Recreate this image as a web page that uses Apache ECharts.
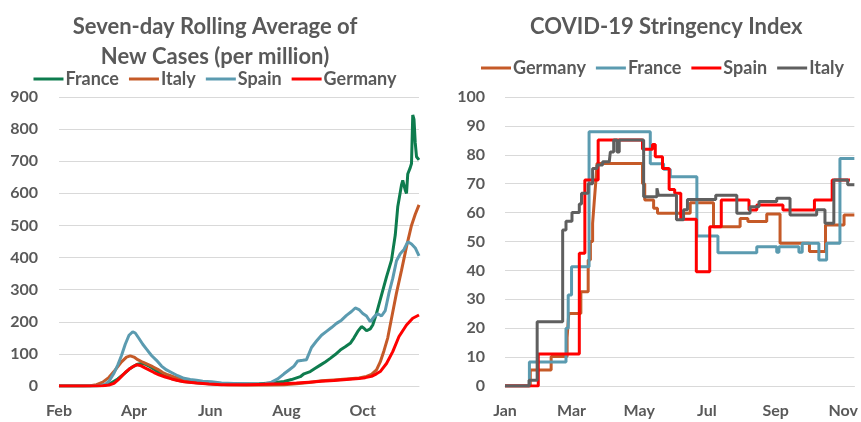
<!DOCTYPE html>
<html><head><meta charset="utf-8">
<script src="https://cdn.jsdelivr.net/npm/echarts@6/dist/echarts.min.js"></script>
<style>
html,body{margin:0;padding:0;background:#fff;}
#wrap{position:relative;width:861px;height:422px;overflow:hidden;}
#c1{position:absolute;left:0;top:0;width:430px;height:422px;}
#c2{position:absolute;left:430px;top:0;width:431px;height:422px;}
</style>
</head><body><div id="wrap"><div id="c1"></div><div id="c2"></div></div>
<script>
// ---------- Left chart: seven-day rolling average of new cases per million ----------
// x values = days since 1 Feb 2020
const caseTickDays = [0, 60, 121, 182, 243];
const caseTickLabels = ['Feb', 'Apr', 'Jun', 'Aug', 'Oct'];
const caseSeriesNames = ['France', 'Italy', 'Spain', 'Germany'];

const franceDays = [0,20,30,37,42,47,52,56,60,63,66,69,72,76,80,85,90,95,100,110,120,130,140,150,160,170,180,186,193,196,201,205,209,213,217,221,225,229,233,236,239,242,244,246,249,251,254,258,262,266,269,271,274,275,277,278,279,281,282,283,284,285,286,288];
const franceVals = [0,0,1,3,10,22,38,52,62,68,70,68,62,52,42,32,24,18,14,10,7,6,6,6,7,9,14,20,29,38,45,55,65,75,86,98,112,122,133,150,170,185,180,172,178,190,226,283,340,392,470,558,626,640,610,600,660,680,693,844,830,757,714,704];

const italyDays = [0,20,25,30,35,40,45,50,54,57,60,63,67,71,75,79,83,87,92,98,105,115,125,135,150,165,180,190,200,210,220,230,240,246,250,254,257,260,263,266,270,274,278,282,285,288];
const italyVals = [0,0,1,4,12,27,50,75,90,94,90,82,74,67,60,52,42,35,28,22,17,11,6,4,3,3,4,7,11,16,19,22,25,30,36,50,75,110,150,210,290,360,434,500,535,564];

const spainDays = [0,25,33,37,40,44,47,50,53,56,59,61,64,67,70,74,78,82,86,90,95,100,105,110,115,122,130,140,150,160,165,170,175,180,184,188,191,195,198,202,206,210,214,218,222,226,230,234,237,240,243,246,249,252,255,258,261,264,267,270,273,276,279,282,285,288];
const spainVals = [0,0,1,5,15,40,65,95,130,158,169,165,148,130,115,95,80,62,50,42,32,24,20,18,15,13,9,8,7,6,7,12,22,38,50,62,78,80,82,120,140,158,170,182,195,205,220,232,243,238,226,218,200,215,225,218,235,290,335,390,412,425,449,442,430,405];

const germanyDays = [0,25,35,40,44,47,50,53,56,59,62,65,68,72,76,80,85,90,95,100,110,120,130,140,150,160,170,180,190,200,210,220,230,240,245,250,254,257,262,267,272,278,283,288];
const germanyVals = [0,0,1,3,8,18,30,42,52,60,66,64,58,50,42,35,28,22,17,13,9,6,4,4,4,5,6,7,9,12,15,17,20,23,26,30,38,45,70,107,154,190,211,221];

// ---------- Right chart: COVID-19 Stringency Index (step changes) ----------
// x values = days since 1 Jan 2020
const strTickDays = [0, 60, 121, 182, 244, 305];
const strTickLabels = ['Jan', 'Mar', 'May', 'Jul', 'Sep', 'Nov'];
const strSeriesNames = ['Germany', 'France', 'Spain', 'Italy'];

const deStrDays = [0,22.8,41.6,56,57.5,68.4,75,77,79,80.5,82,83,124,126,134,137.5,167,188,212,219,236,248,274.5,289,305.7,315];
const deStrVals = [0,5.5,10.2,16.7,25.1,32.6,43.6,50,56.3,64,71.3,77,70,64.4,61.5,59.8,63.4,55.1,58,56.9,59.5,49.4,46.5,55.7,59.2,59.2];

const frStrDays = [0,22,55,57,60,75.8,131,143,149,173,192,227,245,247,265,268,283,290,302,315];
const frStrVals = [0,8.3,20,31.5,41.3,88,76.9,75,72.4,51.9,46.1,48.2,46.3,48.2,46.3,49.4,43.6,49.4,78.7,78.7];

const esStrDays = [0,30,67,72,84,124,133,135.5,142,148,153,158.5,172.5,184.6,195,220,227,250.6,279,295,311];
const esStrVals = [0,11.1,45.9,71.3,85.1,81.9,83.6,79.3,75.3,68,66.7,57.7,39.5,55.1,64.4,60.9,62.6,60.9,64.4,71.3,71.3];

const itStrDays = [0,21.7,29,52,55,60.4,67,69,75,79,83,88,94,95,98,101,103,125,137,138.3,154.6,161,164.5,190,209,221,229,245,257,281,288.5,296.5,309,315];
const itStrVals = [0,2,22.2,54,57,60,63,66.7,70,75.3,76.5,77.6,78.2,81,85.1,81,85.1,65.5,68.4,66,57.5,61,64.5,66,59.8,62,63.8,65,59.2,61,56.3,71.3,69.6,69.6];

const FONT = 'Lato, "Open Sans", sans-serif';
const GREY = '#595959';

function pairs(xs, ys) { return xs.map((x, i) => [x, ys[i]]); }

function baseOption(cfg) {
  return {
    animation: false,
    textStyle: { fontFamily: FONT },
    title: {
      text: cfg.title, left: cfg.titleLeft, top: cfg.titleTop,
      textStyle: { fontFamily: FONT, fontSize: 22, fontWeight: 'bold', color: GREY, lineHeight: 30 }
    },
    legend: {
      top: cfg.legendTop, left: cfg.legendLeft,
      icon: 'rect', itemWidth: 30, itemHeight: 3, itemGap: 10,
      textStyle: { fontFamily: FONT, fontSize: 18, fontWeight: 'bold', color: GREY, padding: [0, 0, 0, -3] },
      data: cfg.names
    },
    grid: cfg.grid,
    xAxis: {
      type: 'value', min: 0, max: cfg.xMax,
      splitLine: { show: false },
      axisTick: { show: false },
      axisLine: { show: true, lineStyle: { color: '#d9d9d9', width: 1 } },
      axisLabel: {
        customValues: cfg.tickDays,
        formatter: v => { const i = cfg.tickDays.indexOf(v); return i >= 0 ? cfg.tickLabels[i] : ''; },
        fontFamily: FONT, fontSize: 16, fontWeight: 'bold', color: GREY, margin: 17
      }
    },
    yAxis: {
      type: 'value', min: 0, max: cfg.yMax, interval: cfg.yInt,
      axisLine: { show: false }, axisTick: { show: false },
      splitLine: { lineStyle: { color: '#d9d9d9', width: 1 } },
      axisLabel: { fontFamily: FONT, fontSize: 16, fontWeight: 'bold', color: GREY, margin: cfg.yMargin }
    },
    series: cfg.series
  };
}

function lineSeries(name, color, data, width, step) {
  return {
    name, type: 'line', data, showSymbol: false, symbol: 'none',
    step: step || false,
    lineStyle: { color, width },
    itemStyle: { color },
    emphasis: { disabled: true }
  };
}

const c1 = echarts.init(document.getElementById('c1'), null, { renderer: 'canvas' });
c1.setOption(baseOption({
  title: 'Seven-day Rolling Average of\nNew Cases (per million)',
  titleLeft: 'center', titleTop: 7,
  legendTop: 65, legendLeft: 'center',
  names: caseSeriesNames,
  grid: { left: 59, right: 11, top: 97, bottom: 36 },
  xMax: 288, tickDays: caseTickDays, tickLabels: caseTickLabels,
  yMax: 900, yInt: 100, yMargin: 21,
  series: [
    lineSeries('France', '#0E7C4E', pairs(franceDays, franceVals), 3),
    lineSeries('Italy', '#C55A28', pairs(italyDays, italyVals), 3),
    lineSeries('Spain', '#5B9BB0', pairs(spainDays, spainVals), 3),
    lineSeries('Germany', '#FF0000', pairs(germanyDays, germanyVals), 3)
  ]
}));

const c2 = echarts.init(document.getElementById('c2'), null, { renderer: 'canvas' });
c2.setOption(baseOption({
  title: 'COVID-19 Stringency Index',
  titleLeft: 95, titleTop: 7,
  legendTop: 54, legendLeft: 46,
  names: strSeriesNames,
  grid: { left: 75, right: 3, top: 97, bottom: 36 },
  xMax: 315, tickDays: strTickDays, tickLabels: strTickLabels,
  yMax: 100, yInt: 10, yMargin: 20,
  series: [
    lineSeries('Germany', '#C55A28', pairs(deStrDays, deStrVals), 3, 'end'),
    lineSeries('France', '#5B9BB0', pairs(frStrDays, frStrVals), 3, 'end'),
    lineSeries('Spain', '#FF0000', pairs(esStrDays, esStrVals), 3, 'end'),
    lineSeries('Italy', '#5F5F5F', pairs(itStrDays, itStrVals), 3, 'end')
  ]
}));
</script></body></html>
